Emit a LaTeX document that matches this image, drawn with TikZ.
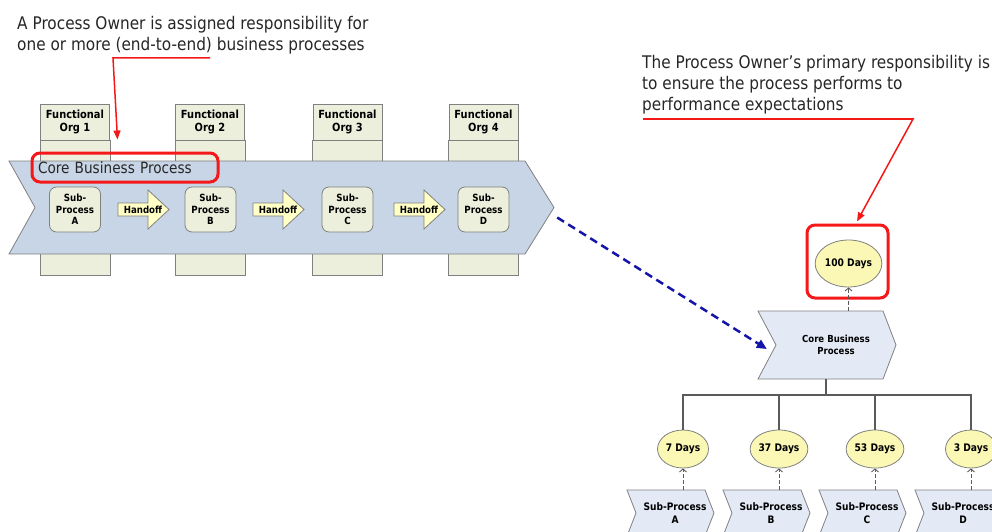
\documentclass[tikz,border=0pt]{standalone}
\usepackage{fontspec}
\setmainfont{DejaVu Sans}[FakeStretch=0.88]
\usetikzlibrary{arrows.meta,shapes.geometric,calc}
\definecolor{orgfill}{HTML}{ECEFDC}
\definecolor{edgegray}{HTML}{808080}
\definecolor{bigfill}{HTML}{C7D5E6}
\definecolor{chevfill}{HTML}{E3EAF6}
\definecolor{hofill}{HTML}{FFFFC6}
\definecolor{dayfill}{HTML}{FBF8B6}
\definecolor{redc}{HTML}{F41818}
\definecolor{bluec}{HTML}{1414A8}
\definecolor{txt}{HTML}{262626}
\definecolor{treegray}{HTML}{5A5A5A}
\begin{document}
\begin{tikzpicture}[x=1pt,y=-1pt,
  orghead/.style={draw=edgegray, fill=orgfill, line width=0.8pt, minimum width=69pt, minimum height=36pt, inner sep=0pt, align=center, font=\bfseries\fontsize{11.2}{12.5}\selectfont},
  colbody/.style={draw=edgegray, fill=orgfill, line width=0.8pt},
  bigchev/.style={draw=edgegray, fill=bigfill, line width=0.8pt},
  subbox/.style={draw=edgegray, fill=orgfill, rounded corners=7pt, line width=0.8pt, minimum width=51pt, minimum height=45pt, inner sep=0pt, align=center, font=\bfseries\fontsize{9.9}{11.5}\selectfont},
  hoshape/.style={draw=edgegray, fill=hofill, line width=0.8pt},
  hotext/.style={inner sep=0pt, font=\bfseries\fontsize{9.8}{11}\selectfont},
  daysell/.style={ellipse, draw=edgegray, fill=dayfill, line width=0.8pt, inner sep=0pt, font=\bfseries\fontsize{10.4}{12}\selectfont},
  chev/.style={draw=edgegray, fill=chevfill, line width=0.8pt},
  chevtext/.style={inner sep=0pt, align=center, font=\bfseries\fontsize{9.7}{12.5}\selectfont},
  subtext/.style={inner sep=0pt, align=center, font=\bfseries\fontsize{10.3}{12.5}\selectfont},
  redbox/.style={draw=redc, line width=3pt, rounded corners=8pt},
  redarrow/.style={draw=redc, line width=1.5pt, -{Triangle[length=9pt,width=7pt]}},
  bluearrow/.style={draw=bluec, line width=2.5pt, dash pattern=on 8pt off 5pt, -{Triangle[length=10pt,width=9pt]}},
  updash/.style={draw=treegray, line width=0.9pt, dash pattern=on 4pt off 2pt, -{Straight Barb[length=3pt,width=7pt]}},
  treeline/.style={draw=treegray, line width=1.2pt},
  note/.style={anchor=north west, inner sep=0pt, align=left, text=txt, font=\fontsize{17.4}{20.8}\selectfont}
]
\useasboundingbox (0,0) rectangle (992,532);
\clip (0,0) rectangle (992,532);

% notes
\node[note] (note1) at (17,16) {A Process Owner is assigned responsibility for\\one or more (end-to-end) business processes};
\node[note] (note2) at (642,55) {The Process Owner’s primary responsibility is\\to ensure the process performs to\\performance expectations};

% functional org headers
\node[orghead] (org1) at (75,122) {Functional\\Org 1};
\node[orghead] (org2) at (210,122) {Functional\\Org 2};
\node[orghead] (org3) at (347.5,122) {Functional\\Org 3};
\node[orghead] (org4) at (483.5,122) {Functional\\Org 4};
\foreach \o in {org1,org2,org3,org4}
  \draw[colbody] (\o.south west) rectangle ($(\o.south east)+(0,135)$);

% big chevron
\node[minimum width=545pt, minimum height=93pt, inner sep=0pt] (bigcbp) at (281.5,207.5) {};
\draw[bigchev] (9,161) -- (525,161) -- (554,207.5) -- (525,254) -- (9,254) -- (35,207.5) -- cycle;

% sub-process boxes
\node[subbox] (spA) at (75,209.5) {Sub-\\Process\\A};
\node[subbox] (spB) at (210.5,209.5) {Sub-\\Process\\B};
\node[subbox] (spC) at (347.5,209.5) {Sub-\\Process\\C};
\node[subbox] (spD) at (483.5,209.5) {Sub-\\Process\\D};

% handoffs
\foreach \x/\n in {118/ho1,253/ho2,394/ho3}{
  \draw[hoshape] (\x,203) -- ++(30,0) -- ++(0,-13) -- ++(21,19.5) -- ++(-21,19.5) -- ++(0,-13) -- ++(-30,0) -- cycle;
  \node[hotext] (\n) at (\x+25,209.5) {Handoff};
}

% red label box
\node[redbox, minimum width=186pt, minimum height=29pt, inner xsep=6pt, inner ysep=0pt, text width=174pt, align=left, text=txt, font=\fontsize{15.5}{17}\selectfont] (cbplabel) at (125,167.5) {Core Business Process};

% red arrow 1
\coordinate (r1a) at (210,58);
\coordinate (r1b) at (113,58);
\draw[redarrow] (r1a) -- (r1b) -- ($(cbplabel.north west)+(87,-12)$);

% right side
\node[redbox, minimum width=81pt, minimum height=73pt] (daysbox) at (847.5,261.5) {};
\node[daysell, minimum width=59pt, minimum height=47pt] (d100) at (848.5,263.5) {100 Days};

\draw[chev] (758,311) -- (883,311) -- (896,345) -- (883,379) -- (758,379) -- (776,345) -- cycle;
\node[chevtext, minimum width=120pt, minimum height=68pt] (core) at (836,345) {Core Business\\Process};

\coordinate (r2a) at (643,119);
\coordinate (r2b) at (913,119);
\draw[redarrow] (r2a) -- (r2b) -- ($(daysbox.north)+(9.5,-2)$);

\draw[updash] (d100.south |- core.north) -- (d100.south);

\draw[bluearrow] ($(bigcbp.east)+(3,10)$) -- ($(core.west)+(-9,4)$);

% tree
\node[daysell, minimum width=51pt, minimum height=38pt] (d7) at (683,449) {7 Days};
\node[daysell, minimum width=51pt, minimum height=38pt] (d37) at (779,449) {37 Days};
\node[daysell, minimum width=51pt, minimum height=38pt] (d53) at (875,449) {53 Days};
\node[daysell, minimum width=51pt, minimum height=38pt] (d3) at (971,449) {3 Days};
\coordinate (hub) at (826,395);
\draw[treeline] ($(core.south)+(-10,0)$) -- (hub);
\draw[treeline] (d7.north) -- (d7.north |- hub) -- (d3.north |- hub) -- (d3.north);
\draw[treeline] (d37.north) -- (d37.north |- hub);
\draw[treeline] (d53.north) -- (d53.north |- hub);

% bottom sub-process chevrons
\foreach \L/\n/\t in {627/sA/A,723/sB/B,819/sC/C,915/sD/D}{
  \draw[chev] (\L,490) -- ++(78,0) -- ++(9,23) -- ++(-9,23) -- ++(-78,0) -- ++(9,-23) -- cycle;
  \node[subtext, minimum width=78pt, minimum height=46pt] (\n) at (\L+48,513) {Sub-Process\\\t};
}
\draw[updash] (d7.south |- sA.north) -- (d7.south);
\draw[updash] (d37.south |- sB.north) -- (d37.south);
\draw[updash] (d53.south |- sC.north) -- (d53.south);
\draw[updash] (d3.south |- sD.north) -- (d3.south);
\end{tikzpicture}
\end{document}
